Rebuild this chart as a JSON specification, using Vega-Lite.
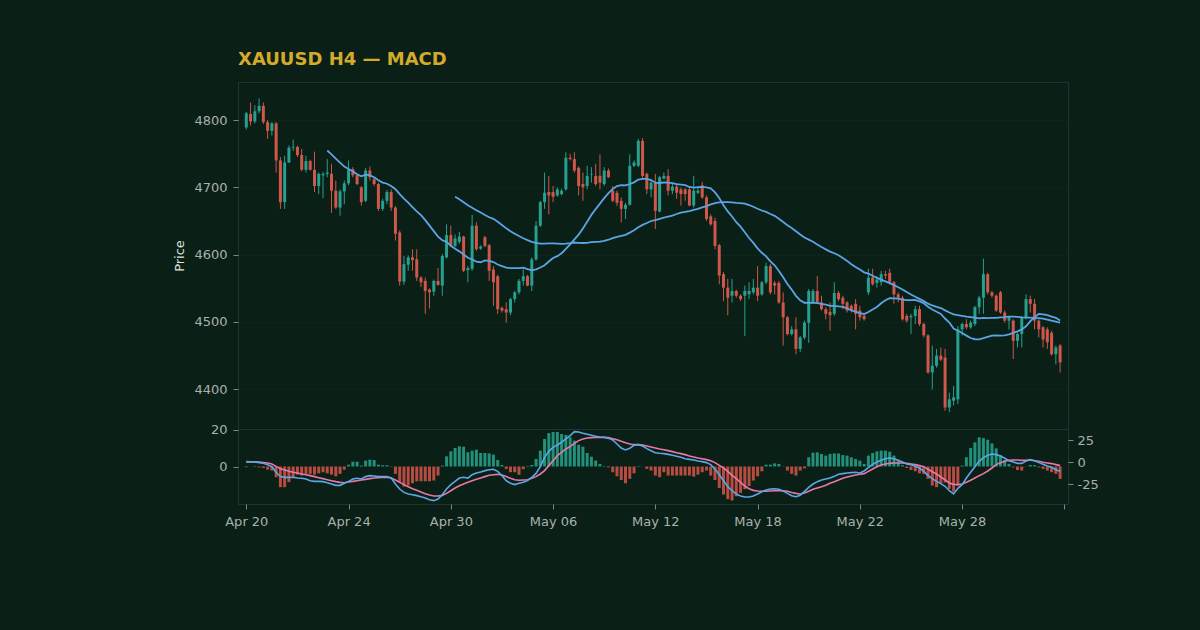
{
"$schema":"https://vega.github.io/schema/vega-lite/v6.json",
"background":"#0a1f15",
"padding":{"left":173,"top":50,"right":102,"bottom":102},
"title":{"text":"XAUUSD H4 — MACD","anchor":"start","frame":"group","color":"#d4aa2c","font":"DejaVu Sans","fontSize":18,"fontWeight":"bold","offset":13},
"config":{
"view":{"stroke":"#223334","strokeWidth":1},
"axis":{"labelFont":"DejaVu Sans","labelFontSize":13,"labelColor":"#a9b1ae","tickColor":"#7d8784","tickSize":5,"labelPadding":6,"domain":false,"titleFont":"DejaVu Sans","titleFontSize":13,"titleColor":"#dde2de","titleFontWeight":"normal","gridColor":"#1a3428","gridDash":[1,3],"labelFlush":false,"labelOverlap":false}
},
"datasets":{"d":[
{"i":0,"o":4789,"h":4812,"l":4786,"c":4810,"m":0,"s":0.7,"hg":-0.4},
{"i":1,"o":4809,"h":4826,"l":4792,"c":4798,"m":0.3,"s":0.6,"hg":0},
{"i":2,"o":4798,"h":4822,"l":4795,"c":4813,"m":0.3,"s":0.5,"hg":0.3},
{"i":3,"o":4813,"h":4832,"l":4810,"c":4821,"m":-0.4,"s":0.2,"hg":-0.5},
{"i":4,"o":4821,"h":4826,"l":4794,"c":4797,"m":-1.2,"s":-0.2,"hg":-0.8},
{"i":5,"o":4797,"h":4800,"l":4772,"c":4784,"m":-2.7,"s":-0.8,"hg":-1.7},
{"i":6,"o":4784,"h":4797,"l":4777,"c":4795,"m":-5,"s":-1.9,"hg":-2.2},
{"i":7,"o":4795,"h":4797,"l":4722,"c":4740,"m":-11.4,"s":-4.6,"hg":-5.8},
{"i":8,"o":4740,"h":4745,"l":4668,"c":4678,"m":-16.3,"s":-7.3,"hg":-11.2},
{"i":9,"o":4678,"h":4747,"l":4668,"c":4737,"m":-17.1,"s":-8.8,"hg":-11.2},
{"i":10,"o":4737,"h":4762,"l":4736,"c":4759,"m":-17.1,"s":-10.3,"hg":-8.5},
{"i":11,"o":4759,"h":4771,"l":4754,"c":4760,"m":-17.1,"s":-11.4,"hg":-5.8},
{"i":12,"o":4760,"h":4762,"l":4745,"c":4748,"m":-17.9,"s":-12.2,"hg":-4.4},
{"i":13,"o":4748,"h":4757,"l":4724,"c":4726,"m":-18.2,"s":-13.3,"hg":-4.9},
{"i":14,"o":4726,"h":4747,"l":4722,"c":4739,"m":-19,"s":-14.1,"hg":-4},
{"i":15,"o":4739,"h":4741,"l":4725,"c":4726,"m":-20.9,"s":-15.2,"hg":-4},
{"i":16,"o":4726,"h":4753,"l":4693,"c":4702,"m":-21.7,"s":-16.3,"hg":-4.4},
{"i":17,"o":4702,"h":4722,"l":4690,"c":4720,"m":-21.7,"s":-17.5,"hg":-3.7},
{"i":18,"o":4718,"h":4723,"l":4684,"c":4720,"m":-22,"s":-18.6,"hg":-3.1},
{"i":19,"o":4720,"h":4742,"l":4715,"c":4722,"m":-23.2,"s":-19.8,"hg":-3.7},
{"i":20,"o":4720,"h":4735,"l":4662,"c":4695,"m":-24.7,"s":-20.9,"hg":-4.4},
{"i":21,"o":4695,"h":4710,"l":4668,"c":4670,"m":-26.2,"s":-22,"hg":-5.3},
{"i":22,"o":4670,"h":4697,"l":4658,"c":4694,"m":-26.2,"s":-22.8,"hg":-4},
{"i":23,"o":4694,"h":4710,"l":4675,"c":4706,"m":-23.9,"s":-23.2,"hg":-1.7},
{"i":24,"o":4706,"h":4740,"l":4703,"c":4726,"m":-21.7,"s":-22.4,"hg":1},
{"i":25,"o":4727,"h":4730,"l":4715,"c":4718,"m":-19,"s":-21.7,"hg":2.6},
{"i":26,"o":4718,"h":4720,"l":4703,"c":4705,"m":-18.2,"s":-20.9,"hg":2.6},
{"i":27,"o":4700,"h":4702,"l":4673,"c":4678,"m":-19,"s":-20.1,"hg":0.5},
{"i":28,"o":4680,"h":4729,"l":4678,"c":4725,"m":-16.3,"s":-19.4,"hg":3.2},
{"i":29,"o":4725,"h":4731,"l":4710,"c":4715,"m":-15.2,"s":-18.6,"hg":3.7},
{"i":30,"o":4712,"h":4715,"l":4702,"c":4705,"m":-15.6,"s":-17.9,"hg":3.5},
{"i":31,"o":4705,"h":4707,"l":4665,"c":4668,"m":-16.3,"s":-17.5,"hg":1},
{"i":32,"o":4668,"h":4683,"l":4665,"c":4680,"m":-16.3,"s":-17.1,"hg":0.7},
{"i":33,"o":4680,"h":4696,"l":4675,"c":4693,"m":-16.3,"s":-17.1,"hg":0.7},
{"i":34,"o":4693,"h":4697,"l":4665,"c":4670,"m":-17.9,"s":-17.9,"hg":-0.2},
{"i":35,"o":4670,"h":4672,"l":4621,"c":4631,"m":-24.7,"s":-20.1,"hg":-4},
{"i":36,"o":4633,"h":4636,"l":4554,"c":4560,"m":-30.4,"s":-22.8,"hg":-8.5},
{"i":37,"o":4560,"h":4598,"l":4555,"c":4586,"m":-34.2,"s":-25.4,"hg":-10.9},
{"i":38,"o":4585,"h":4599,"l":4576,"c":4596,"m":-36,"s":-27.7,"hg":-10.3},
{"i":39,"o":4596,"h":4608,"l":4576,"c":4592,"m":-36.8,"s":-30,"hg":-9.1},
{"i":40,"o":4593,"h":4608,"l":4561,"c":4566,"m":-37.9,"s":-31.9,"hg":-8},
{"i":41,"o":4566,"h":4568,"l":4552,"c":4559,"m":-39.1,"s":-33.8,"hg":-8},
{"i":42,"o":4561,"h":4566,"l":4512,"c":4546,"m":-40.6,"s":-35.7,"hg":-8},
{"i":43,"o":4548,"h":4550,"l":4520,"c":4544,"m":-42.5,"s":-37.2,"hg":-8},
{"i":44,"o":4545,"h":4563,"l":4539,"c":4561,"m":-43.6,"s":-38.3,"hg":-7.6},
{"i":45,"o":4561,"h":4580,"l":4554,"c":4555,"m":-41.7,"s":-38.3,"hg":-4.9},
{"i":46,"o":4554,"h":4601,"l":4539,"c":4598,"m":-36.8,"s":-37.6,"hg":0.5},
{"i":47,"o":4596,"h":4645,"l":4594,"c":4629,"m":-30.4,"s":-35.3,"hg":5.5},
{"i":48,"o":4629,"h":4643,"l":4611,"c":4613,"m":-25.4,"s":-32.3,"hg":8.2},
{"i":49,"o":4613,"h":4630,"l":4611,"c":4624,"m":-21.7,"s":-29.2,"hg":10},
{"i":50,"o":4619,"h":4634,"l":4616,"c":4627,"m":-17.9,"s":-26.6,"hg":10.9},
{"i":51,"o":4627,"h":4628,"l":4574,"c":4576,"m":-17.1,"s":-24.7,"hg":10.7},
{"i":52,"o":4577,"h":4583,"l":4559,"c":4580,"m":-17.9,"s":-22.8,"hg":7.7},
{"i":53,"o":4579,"h":4659,"l":4576,"c":4643,"m":-14.1,"s":-20.9,"hg":8.6},
{"i":54,"o":4643,"h":4648,"l":4606,"c":4608,"m":-12.2,"s":-19.4,"hg":9.1},
{"i":55,"o":4609,"h":4614,"l":4607,"c":4612,"m":-11,"s":-17.9,"hg":7.3},
{"i":56,"o":4626,"h":4628,"l":4611,"c":4613,"m":-9.5,"s":-16.3,"hg":7.3},
{"i":57,"o":4614,"h":4616,"l":4561,"c":4576,"m":-8.4,"s":-14.8,"hg":7.1},
{"i":58,"o":4578,"h":4583,"l":4524,"c":4559,"m":-8,"s":-14.1,"hg":6.4},
{"i":59,"o":4568,"h":4570,"l":4512,"c":4519,"m":-10.3,"s":-13.7,"hg":3.5},
{"i":60,"o":4521,"h":4523,"l":4514,"c":4517,"m":-15.2,"s":-14.5,"hg":0.8},
{"i":61,"o":4519,"h":4529,"l":4499,"c":4514,"m":-20.9,"s":-16.3,"hg":-1.3},
{"i":62,"o":4514,"h":4536,"l":4510,"c":4534,"m":-23.9,"s":-18.2,"hg":-3.1},
{"i":63,"o":4534,"h":4546,"l":4529,"c":4544,"m":-25.4,"s":-19.8,"hg":-3.1},
{"i":64,"o":4544,"h":4564,"l":4541,"c":4561,"m":-23.9,"s":-20.5,"hg":-4.5},
{"i":65,"o":4561,"h":4578,"l":4554,"c":4568,"m":-22.8,"s":-20.1,"hg":-1.5},
{"i":66,"o":4568,"h":4570,"l":4553,"c":4554,"m":-20.9,"s":-19.8,"hg":0.3},
{"i":67,"o":4554,"h":4596,"l":4546,"c":4593,"m":-17.1,"s":-18.2,"hg":0.8},
{"i":68,"o":4593,"h":4650,"l":4591,"c":4643,"m":-12.6,"s":-16.3,"hg":4.1},
{"i":69,"o":4643,"h":4680,"l":4641,"c":4678,"m":-5,"s":-13.3,"hg":8.6},
{"i":70,"o":4678,"h":4722,"l":4668,"c":4692,"m":5.6,"s":-9.5,"hg":14.9},
{"i":71,"o":4693,"h":4717,"l":4660,"c":4688,"m":12.4,"s":-3.8,"hg":18.1},
{"i":72,"o":4693,"h":4702,"l":4678,"c":4686,"m":17,"s":1.8,"hg":18.7},
{"i":73,"o":4688,"h":4700,"l":4686,"c":4697,"m":19.6,"s":7.5,"hg":18.7},
{"i":74,"o":4690,"h":4698,"l":4688,"c":4695,"m":22.7,"s":11.3,"hg":17.6},
{"i":75,"o":4697,"h":4752,"l":4695,"c":4744,"m":26.5,"s":15.1,"hg":17.1},
{"i":76,"o":4744,"h":4750,"l":4740,"c":4742,"m":30.2,"s":17.7,"hg":15.8},
{"i":77,"o":4742,"h":4752,"l":4722,"c":4725,"m":34.8,"s":21.5,"hg":14},
{"i":78,"o":4729,"h":4731,"l":4688,"c":4702,"m":34.4,"s":24.6,"hg":11.8},
{"i":79,"o":4705,"h":4722,"l":4680,"c":4700,"m":32.9,"s":26.5,"hg":10.7},
{"i":80,"o":4702,"h":4732,"l":4697,"c":4717,"m":31.8,"s":27.6,"hg":7.3},
{"i":81,"o":4719,"h":4730,"l":4707,"c":4720,"m":30.6,"s":28,"hg":5.3},
{"i":82,"o":4717,"h":4735,"l":4702,"c":4705,"m":29.5,"s":28.3,"hg":3.2},
{"i":83,"o":4717,"h":4749,"l":4697,"c":4707,"m":28.7,"s":28.3,"hg":1.4},
{"i":84,"o":4705,"h":4730,"l":4702,"c":4725,"m":28.3,"s":28.3,"hg":0.3},
{"i":85,"o":4725,"h":4728,"l":4714,"c":4715,"m":27.2,"s":28,"hg":-0.5},
{"i":86,"o":4695,"h":4702,"l":4678,"c":4680,"m":25.3,"s":26.8,"hg":-3.1},
{"i":87,"o":4692,"h":4695,"l":4672,"c":4677,"m":20.8,"s":25.7,"hg":-5.3},
{"i":88,"o":4680,"h":4685,"l":4648,"c":4668,"m":16.2,"s":23.8,"hg":-7.3},
{"i":89,"o":4668,"h":4677,"l":4653,"c":4674,"m":14,"s":22.3,"hg":-9.1},
{"i":90,"o":4674,"h":4749,"l":4673,"c":4732,"m":15.9,"s":20.8,"hg":-6.7},
{"i":91,"o":4732,"h":4740,"l":4730,"c":4737,"m":19.3,"s":20,"hg":-3.7},
{"i":92,"o":4732,"h":4772,"l":4730,"c":4769,"m":20,"s":20,"hg":0.3},
{"i":93,"o":4769,"h":4773,"l":4714,"c":4717,"m":18.5,"s":19.6,"hg":-0.1},
{"i":94,"o":4720,"h":4722,"l":4690,"c":4697,"m":15.5,"s":18.5,"hg":-1.3},
{"i":95,"o":4697,"h":4710,"l":4685,"c":4707,"m":13.2,"s":17.4,"hg":-2.2},
{"i":96,"o":4707,"h":4720,"l":4638,"c":4665,"m":10.9,"s":16.2,"hg":-4.9},
{"i":97,"o":4664,"h":4717,"l":4663,"c":4715,"m":10.2,"s":15.1,"hg":-5.8},
{"i":98,"o":4713,"h":4722,"l":4712,"c":4717,"m":9.8,"s":14.3,"hg":-3.1},
{"i":99,"o":4717,"h":4727,"l":4688,"c":4695,"m":9,"s":13.2,"hg":-4.9},
{"i":100,"o":4695,"h":4705,"l":4690,"c":4701,"m":7.9,"s":12.1,"hg":-4.9},
{"i":101,"o":4701,"h":4705,"l":4683,"c":4692,"m":6.8,"s":10.9,"hg":-4.9},
{"i":102,"o":4697,"h":4700,"l":4673,"c":4690,"m":5.6,"s":9.8,"hg":-4.9},
{"i":103,"o":4697,"h":4699,"l":4680,"c":4690,"m":4.1,"s":8.7,"hg":-4.9},
{"i":104,"o":4697,"h":4700,"l":4672,"c":4673,"m":3.3,"s":7.1,"hg":-4.9},
{"i":105,"o":4673,"h":4717,"l":4670,"c":4695,"m":2.6,"s":6,"hg":-5.5},
{"i":106,"o":4692,"h":4699,"l":4690,"c":4695,"m":1.5,"s":4.9,"hg":-4.4},
{"i":107,"o":4703,"h":4708,"l":4683,"c":4685,"m":0.7,"s":4.1,"hg":-3.1},
{"i":108,"o":4685,"h":4688,"l":4650,"c":4653,"m":-0.4,"s":3,"hg":-2.2},
{"i":109,"o":4657,"h":4660,"l":4643,"c":4645,"m":-2.7,"s":1.8,"hg":-4.9},
{"i":110,"o":4650,"h":4655,"l":4608,"c":4613,"m":-7.6,"s":-0.4,"hg":-7.3},
{"i":111,"o":4614,"h":4616,"l":4556,"c":4569,"m":-14.1,"s":-3.5,"hg":-11.6},
{"i":112,"o":4571,"h":4574,"l":4531,"c":4551,"m":-20.9,"s":-6.5,"hg":-15.2},
{"i":113,"o":4551,"h":4564,"l":4510,"c":4536,"m":-27.7,"s":-10.3,"hg":-17.7},
{"i":114,"o":4539,"h":4564,"l":4529,"c":4546,"m":-32.3,"s":-14.8,"hg":-18.4},
{"i":115,"o":4546,"h":4548,"l":4536,"c":4539,"m":-36,"s":-18.6,"hg":-16.1},
{"i":116,"o":4539,"h":4541,"l":4531,"c":4534,"m":-38.3,"s":-22.8,"hg":-14.3},
{"i":117,"o":4539,"h":4554,"l":4479,"c":4546,"m":-39.5,"s":-27,"hg":-12.3},
{"i":118,"o":4541,"h":4559,"l":4534,"c":4546,"m":-39.5,"s":-30,"hg":-10.5},
{"i":119,"o":4544,"h":4564,"l":4541,"c":4551,"m":-38.3,"s":-31.9,"hg":-7.6},
{"i":120,"o":4551,"h":4583,"l":4531,"c":4539,"m":-36,"s":-32.6,"hg":-5.3},
{"i":121,"o":4541,"h":4561,"l":4539,"c":4559,"m":-33.4,"s":-33,"hg":-2.6},
{"i":122,"o":4559,"h":4588,"l":4556,"c":4583,"m":-31.5,"s":-33,"hg":1},
{"i":123,"o":4583,"h":4586,"l":4541,"c":4544,"m":-30.4,"s":-32.6,"hg":1},
{"i":124,"o":4558,"h":4561,"l":4541,"c":4554,"m":-30,"s":-32.3,"hg":1.7},
{"i":125,"o":4558,"h":4561,"l":4527,"c":4529,"m":-30.7,"s":-32.3,"hg":1.4},
{"i":126,"o":4529,"h":4544,"l":4465,"c":4507,"m":-32.6,"s":-32.3,"hg":-0.1},
{"i":127,"o":4507,"h":4509,"l":4480,"c":4482,"m":-35.3,"s":-33,"hg":-2.2},
{"i":128,"o":4482,"h":4494,"l":4480,"c":4489,"m":-38,"s":-34.4,"hg":-4},
{"i":129,"o":4489,"h":4507,"l":4452,"c":4460,"m":-39.1,"s":-35.3,"hg":-4.9},
{"i":130,"o":4460,"h":4479,"l":4455,"c":4477,"m":-37.6,"s":-36,"hg":-2.2},
{"i":131,"o":4477,"h":4502,"l":4474,"c":4499,"m":-33,"s":-34.9,"hg":-1},
{"i":132,"o":4499,"h":4549,"l":4469,"c":4546,"m":-28.5,"s":-33,"hg":5},
{"i":133,"o":4530,"h":4549,"l":4527,"c":4546,"m":-24.7,"s":-30.7,"hg":7.5},
{"i":134,"o":4546,"h":4568,"l":4527,"c":4529,"m":-22,"s":-29.2,"hg":7.7},
{"i":135,"o":4529,"h":4539,"l":4517,"c":4519,"m":-20.1,"s":-27.7,"hg":6.8},
{"i":136,"o":4519,"h":4522,"l":4504,"c":4512,"m":-19,"s":-26.2,"hg":5.9},
{"i":137,"o":4515,"h":4529,"l":4487,"c":4510,"m":-17.9,"s":-23.9,"hg":6.8},
{"i":138,"o":4512,"h":4559,"l":4509,"c":4543,"m":-16,"s":-22,"hg":7.1},
{"i":139,"o":4543,"h":4546,"l":4531,"c":4534,"m":-13.7,"s":-20.1,"hg":7.1},
{"i":140,"o":4536,"h":4539,"l":4519,"c":4527,"m":-12.9,"s":-18.2,"hg":6.2},
{"i":141,"o":4529,"h":4531,"l":4514,"c":4517,"m":-12.2,"s":-16.7,"hg":5.9},
{"i":142,"o":4524,"h":4526,"l":4514,"c":4517,"m":-11.8,"s":-15.6,"hg":5},
{"i":143,"o":4527,"h":4534,"l":4489,"c":4512,"m":-11.4,"s":-14.5,"hg":4.1},
{"i":144,"o":4517,"h":4524,"l":4502,"c":4507,"m":-12.2,"s":-13.7,"hg":3.2},
{"i":145,"o":4509,"h":4512,"l":4502,"c":4504,"m":-9.9,"s":-12.9,"hg":1.4},
{"i":146,"o":4544,"h":4579,"l":4540,"c":4566,"m":-6.1,"s":-10.3,"hg":5.9},
{"i":147,"o":4566,"h":4579,"l":4554,"c":4556,"m":-2.3,"s":-7.6,"hg":7.3},
{"i":148,"o":4558,"h":4568,"l":4551,"c":4563,"m":0.3,"s":-5,"hg":8.2},
{"i":149,"o":4559,"h":4576,"l":4554,"c":4571,"m":2.2,"s":-3.1,"hg":8.6},
{"i":150,"o":4571,"h":4576,"l":4564,"c":4569,"m":4.1,"s":-2,"hg":8.6},
{"i":151,"o":4573,"h":4579,"l":4556,"c":4559,"m":4.9,"s":-1.2,"hg":8},
{"i":152,"o":4559,"h":4561,"l":4527,"c":4541,"m":4.1,"s":-0.8,"hg":5.9},
{"i":153,"o":4541,"h":4544,"l":4529,"c":4536,"m":2.2,"s":-0.8,"hg":3.5},
{"i":154,"o":4536,"h":4539,"l":4502,"c":4504,"m":0.3,"s":-0.8,"hg":0.7},
{"i":155,"o":4509,"h":4512,"l":4499,"c":4502,"m":-2,"s":-1.2,"hg":-0.8},
{"i":156,"o":4507,"h":4512,"l":4482,"c":4509,"m":-2.7,"s":-2,"hg":-1.9},
{"i":157,"o":4509,"h":4524,"l":4497,"c":4519,"m":-4.6,"s":-2.7,"hg":-2.6},
{"i":158,"o":4519,"h":4524,"l":4494,"c":4497,"m":-6.5,"s":-3.8,"hg":-3.7},
{"i":159,"o":4497,"h":4499,"l":4477,"c":4480,"m":-10.3,"s":-5,"hg":-4},
{"i":160,"o":4480,"h":4482,"l":4423,"c":4425,"m":-15.2,"s":-8,"hg":-6.7},
{"i":161,"o":4425,"h":4465,"l":4400,"c":4435,"m":-18.6,"s":-10.7,"hg":-10.3},
{"i":162,"o":4435,"h":4460,"l":4432,"c":4450,"m":-21.7,"s":-13.3,"hg":-11.2},
{"i":163,"o":4450,"h":4462,"l":4442,"c":4444,"m":-24.3,"s":-16.7,"hg":-9.1},
{"i":164,"o":4447,"h":4460,"l":4368,"c":4373,"m":-27.3,"s":-20.1,"hg":-8.7},
{"i":165,"o":4373,"h":4395,"l":4366,"c":4385,"m":-32.3,"s":-23.5,"hg":-12.1},
{"i":166,"o":4383,"h":4405,"l":4376,"c":4388,"m":-36,"s":-25.1,"hg":-13.6},
{"i":167,"o":4385,"h":4494,"l":4378,"c":4489,"m":-29.6,"s":-25.4,"hg":-10.3},
{"i":168,"o":4489,"h":4499,"l":4480,"c":4497,"m":-25.4,"s":-24.7,"hg":0.5},
{"i":169,"o":4497,"h":4504,"l":4489,"c":4492,"m":-17.9,"s":-22.8,"hg":5},
{"i":170,"o":4492,"h":4502,"l":4490,"c":4499,"m":-11.4,"s":-20.5,"hg":10},
{"i":171,"o":4497,"h":4524,"l":4494,"c":4522,"m":-5,"s":-17.9,"hg":13.1},
{"i":172,"o":4522,"h":4539,"l":4512,"c":4536,"m":1.1,"s":-15.2,"hg":15.8},
{"i":173,"o":4536,"h":4594,"l":4512,"c":4571,"m":5.2,"s":-12.9,"hg":15.4},
{"i":174,"o":4571,"h":4573,"l":4541,"c":4544,"m":7.9,"s":-9.9,"hg":14.5},
{"i":175,"o":4544,"h":4546,"l":4536,"c":4539,"m":9.4,"s":-6.5,"hg":12.5},
{"i":176,"o":4539,"h":4541,"l":4515,"c":4517,"m":8.7,"s":-2.7,"hg":9.8},
{"i":177,"o":4544,"h":4546,"l":4512,"c":4514,"m":7.1,"s":-0.4,"hg":6.2},
{"i":178,"o":4514,"h":4517,"l":4499,"c":4502,"m":4.5,"s":1.1,"hg":3.5},
{"i":179,"o":4502,"h":4509,"l":4489,"c":4507,"m":1.8,"s":2.2,"hg":1.4},
{"i":180,"o":4502,"h":4504,"l":4445,"c":4472,"m":0.3,"s":2.6,"hg":-0.5},
{"i":181,"o":4472,"h":4484,"l":4462,"c":4482,"m":-1.2,"s":2.6,"hg":-1.9},
{"i":182,"o":4482,"h":4509,"l":4462,"c":4507,"m":-1.2,"s":2.2,"hg":-2.2},
{"i":183,"o":4507,"h":4541,"l":4504,"c":4534,"m":1.5,"s":2.2,"hg":-0.1},
{"i":184,"o":4534,"h":4539,"l":4514,"c":4527,"m":3,"s":2.6,"hg":0.8},
{"i":185,"o":4527,"h":4534,"l":4489,"c":4502,"m":1.8,"s":1.8,"hg":0.7},
{"i":186,"o":4502,"h":4504,"l":4477,"c":4489,"m":-0.4,"s":1.1,"hg":-0.5},
{"i":187,"o":4492,"h":4494,"l":4462,"c":4474,"m":-2.3,"s":0,"hg":-1.3},
{"i":188,"o":4489,"h":4492,"l":4460,"c":4470,"m":-4.2,"s":-0.8,"hg":-2.2},
{"i":189,"o":4484,"h":4487,"l":4450,"c":4452,"m":-5.7,"s":-1.5,"hg":-3.1},
{"i":190,"o":4452,"h":4465,"l":4437,"c":4462,"m":-8.4,"s":-2.7,"hg":-4},
{"i":191,"o":4465,"h":4467,"l":4425,"c":4440,"m":-10.3,"s":-3.8,"hg":-6.7}
]},
"spacing":0,
"bounds":"flush",
"vconcat":[
{
"width":830,"height":347,
"data":{"name":"d"},
"encoding":{"x":{"field":"i","type":"quantitative","scale":{"domain":[-1.95,192.85],"nice":false,"zero":false,"padding":0},"axis":null}},
"layer":[
{"mark":{"type":"rule","strokeWidth":1},
"encoding":{
"y":{"field":"l","type":"quantitative","title":"Price","scale":{"domain":[4341,4856.5],"nice":false,"zero":false},"axis":{"values":[4400,4500,4600,4700,4800],"format":"d","grid":true,"titlePadding":7}},
"y2":{"field":"h"},
"color":{"condition":{"test":"datum.c >= datum.o","value":"#27a08f"},"value":"#cf574b"}}},
{"mark":{"type":"bar","size":3},
"encoding":{
"y":{"field":"o","type":"quantitative","title":"Price"},
"y2":{"field":"c"},
"color":{"condition":{"test":"datum.c >= datum.o","value":"#27a08f"},"value":"#cf574b"}}},
{"transform":[{"window":[{"op":"mean","field":"c","as":"sma20"},{"op":"count","field":"c","as":"n20"}],"frame":[-19,0],"sort":[{"field":"i"}]},{"filter":"datum.n20 >= 20"}],
"mark":{"type":"line","color":"#5ba4e6","strokeWidth":1.8},
"encoding":{"y":{"field":"sma20","type":"quantitative","title":"Price"}}},
{"transform":[{"window":[{"op":"mean","field":"c","as":"sma50"},{"op":"count","field":"c","as":"n50"}],"frame":[-49,0],"sort":[{"field":"i"}]},{"filter":"datum.n50 >= 50"}],
"mark":{"type":"line","color":"#5ba4e6","strokeWidth":1.8},
"encoding":{"y":{"field":"sma50","type":"quantitative","title":"Price"}}}
]
},
{
"width":830,"height":75,
"data":{"name":"d"},
"encoding":{"x":{"field":"i","type":"quantitative","scale":{"domain":[-1.95,192.85],"nice":false,"zero":false,"padding":0},"axis":{"values":[0,24,48,72,96,120,144,168,192],"labelExpr":"['Apr 20','Apr 24','Apr 30','May 06','May 12','May 18','May 22','May 28',''][round(datum.value/24)]","title":null,"grid":false}}},
"layer":[
{"mark":{"type":"bar","size":3},
"encoding":{
"y":{"field":"hg","type":"quantitative","title":null,"scale":{"domain":[-20.3,20.3],"nice":false,"zero":false},"axis":{"values":[0,20],"format":"d","orient":"left","grid":false}},
"y2":{"datum":0},
"color":{"condition":{"test":"datum.hg >= 0","value":"#22907b"},"value":"#b84c42"}}},
{"layer":[
{"mark":{"type":"line","color":"#e878aa","strokeWidth":1.6},
"encoding":{"y":{"field":"s","type":"quantitative","title":null,"scale":{"domain":[-47.4,37.8],"nice":false,"zero":false},"axis":{"values":[-25,0,25],"labelExpr":"replace(datum.label, '−', '-')","orient":"right","grid":false,"labelPadding":4}}}},
{"mark":{"type":"line","color":"#5aa8e8","strokeWidth":1.6},
"encoding":{"y":{"field":"m","type":"quantitative","title":null,"scale":{"domain":[-47.4,37.8],"nice":false,"zero":false},"axis":{"values":[-25,0,25],"labelExpr":"replace(datum.label, '−', '-')","orient":"right","grid":false,"labelPadding":4}}}}
]}
],
"resolve":{"scale":{"y":"independent"},"axis":{"y":"independent"}}
}
]
}
